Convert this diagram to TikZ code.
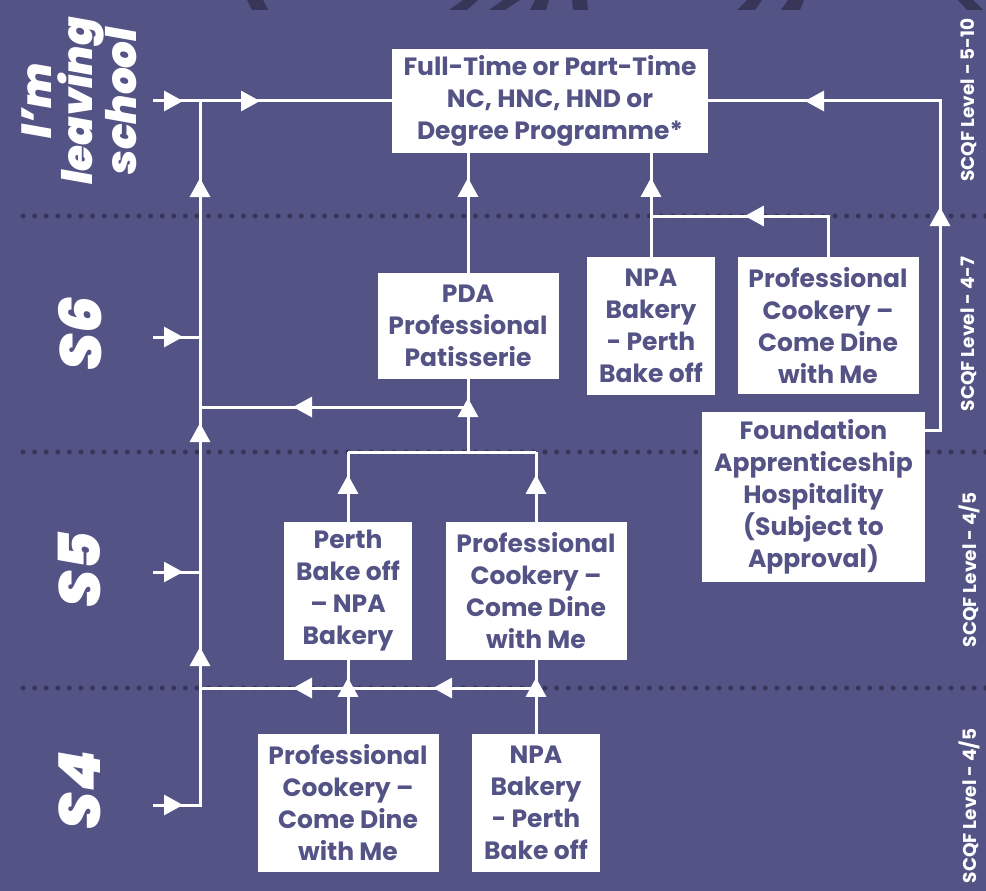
\documentclass[tikz,border=0pt]{standalone}
\usepackage{fontspec}
\setmainfont{Poppins}
\newfontfamily\heavyfont{Poppins Black Italic}
\usepackage{tikz}
\usetikzlibrary{arrows.meta}
\usetikzlibrary{decorations.markings}

\definecolor{plum}{RGB}{83,83,134}
\definecolor{inkdot}{RGB}{55,54,88}

\tikzset{
  course/.style={fill=white, text=plum, inner sep=0pt, align=center,
    font=\bfseries\fontsize{25}{32}\selectfont},
  flow/.style={color=white, line width=3pt},
  tipat/.style={postaction={decorate, decoration={markings,
    mark=at position #1 with {\arrow{Triangle[length=19pt,width=20pt]}}}}},
  stage/.style={text=white, rotate=90, align=center, inner sep=0pt,
    font=\heavyfont\fontsize{42}{41}\selectfont},
  level/.style={text=white, rotate=90, inner sep=0pt,
    font=\bfseries\fontsize{18.5}{20}\selectfont},
  band/.style={draw=inkdot, line width=5pt, line cap=round,
    dash pattern=on 0pt off 11.6pt},
}

\begin{document}
\begin{tikzpicture}[x=1pt,y=-1pt]
  \useasboundingbox (0,0) rectangle (986,891);
  \fill[plum] (0,0) rectangle (986,891);
  \fill[inkdot] (247,0) -- (263,0) -- (268,10) -- (252,10) -- cycle;
  \fill[inkdot] (463,0) -- (478,0) -- (467,10) -- (449,10) -- cycle;
  \fill[inkdot] (503,0) -- (520,0) -- (505,10) -- (489,10) -- cycle;
  \fill[inkdot] (535,0) -- (549,0) -- (546,10) -- (530,10) -- cycle;
  \fill[inkdot] (572,0) -- (587,0) -- (588,10) -- (573,10) -- cycle;
  \fill[inkdot] (747,0) -- (762,0) -- (755,10) -- (737,10) -- cycle;
  \fill[inkdot] (788,0) -- (804,0) -- (800,10) -- (781,10) -- cycle;
  \fill[inkdot] (958,0) -- (973,0) -- (983,10) -- (967,10) -- cycle;
  \draw[band] (23,216) -- (986,216);
  \draw[band] (23,452) -- (986,452);
  \draw[band] (23,688) -- (986,688);

  \node[stage] (leave) at (79,101) {I’m\\leaving\\school};
  \node[stage, font=\heavyfont\fontsize{58}{58}\selectfont] (s6) at (80,334) {S6};
  \node[stage, font=\heavyfont\fontsize{58}{58}\selectfont] (s5) at (80,570) {S5};
  \node[stage, font=\heavyfont\fontsize{58}{58}\selectfont] (s4) at (80,790) {S4};
  \node[level] (lvtop) at (969,100) {SCQF Level - 5-10};
  \node[level] (lv6) at (969,334) {SCQF Level - 4-7};
  \node[level] (lv5) at (969,570) {SCQF Level - 4/5};
  \node[level] (lv4) at (969,806) {SCQF Level - 4/5};

  \node[course, minimum width=316pt, minimum height=104pt] (degree) at (550,101)
    {Full-Time or Part-Time\\NC, HNC, HND or\\Degree Programme*};
  \node[course, minimum width=181pt, minimum height=106pt] (pda) at (468,326)
    {PDA\\Professional\\Patisserie};
  \node[course, minimum width=128pt, minimum height=138pt] (npasix) at (651,326)
    {NPA\\Bakery\\- Perth\\Bake off};
  \node[course, minimum width=181pt, minimum height=137pt] (cooksix) at (828,325.5)
    {Professional\\Cookery –\\Come Dine\\with Me};
  \node[course, minimum width=223pt, minimum height=170pt] (found) at (813.5,497)
    {Foundation\\Apprenticeship\\Hospitality\\(Subject to\\Approval)};
  \node[course, minimum width=128pt, minimum height=138pt] (perthfive) at (348,591)
    {Perth\\Bake off\\– NPA\\Bakery};
  \node[course, minimum width=181pt, minimum height=138pt] (cookfive) at (536,591)
    {Professional\\Cookery –\\Come Dine\\with Me};
  \node[course, minimum width=181pt, minimum height=138pt] (cookfour) at (348,803)
    {Professional\\Cookery –\\Come Dine\\with Me};
  \node[course, minimum width=128pt, minimum height=138pt] (npafour) at (536,803)
    {NPA\\Bakery\\- Perth\\Bake off};

  \coordinate (in0) at (153,101);
  \coordinate (in6) at (153,337);
  \coordinate (in5) at (153,572);
  \coordinate (in4) at (153,805);
  \coordinate (sp0) at (200,101);
  \coordinate (sp6) at (200,337);
  \coordinate (sp5) at (200,572);
  \coordinate (sp4) at (200,805);
  \coordinate (spp) at (200,407);
  \coordinate (spb) at (200,688);
  \coordinate (pdaj) at (468,407);
  \coordinate (fivej) at (468,452);
  \coordinate (fivel) at (348,452);
  \coordinate (fiver) at (536,452);
  \coordinate (fourr) at (536,688);
  \coordinate (sixj) at (651,216);
  \coordinate (founde) at (925,430);
  \coordinate (foundc) at (940,430);
  \coordinate (foundt) at (940,101);

  \draw[flow, tipat=30pt, tipat=107pt] (in0) -- (degree.west);
  \draw[flow, tipat=30pt, tipat=205pt, tipat=429pt, tipat=674pt]
    (in4) -- (sp4) -- (sp0);
  \draw[flow, tipat=30pt] (in6) -- (sp6);
  \draw[flow, tipat=30pt] (in5) -- (sp5);
  \draw[flow, tipat=47pt] (perthfive.north) -- (fivel);
  \draw[flow, tipat=47pt] (cookfive.north) -- (fiver);
  \draw[flow] (fivel) -- (fiver);
  \draw[flow, tipat=54pt] (fivej) -- (pda.south);
  \draw[flow, tipat=175pt] (pdaj) -- (spp);
  \draw[flow, tipat=56pt] (cookfour.north) -- (perthfive.south);
  \draw[flow, tipat=56pt] (npafour.north) -- (cookfive.south);
  \draw[flow, tipat=103pt, tipat=243pt] (fourr) -- (spb);
  \draw[flow, tipat=95pt] (pda.north) -- (pda.north |- degree.south);
  \draw[flow, tipat=79pt] (npasix.north) -- (npasix.north |- degree.south);
  \draw[flow, tipat=124pt] (cooksix.north) |- (sixj);
  \draw[flow, tipat=238pt, tipat=479pt]
    (founde) -- (foundc) -- (foundt) -- (degree.east);
\end{tikzpicture}
\end{document}
